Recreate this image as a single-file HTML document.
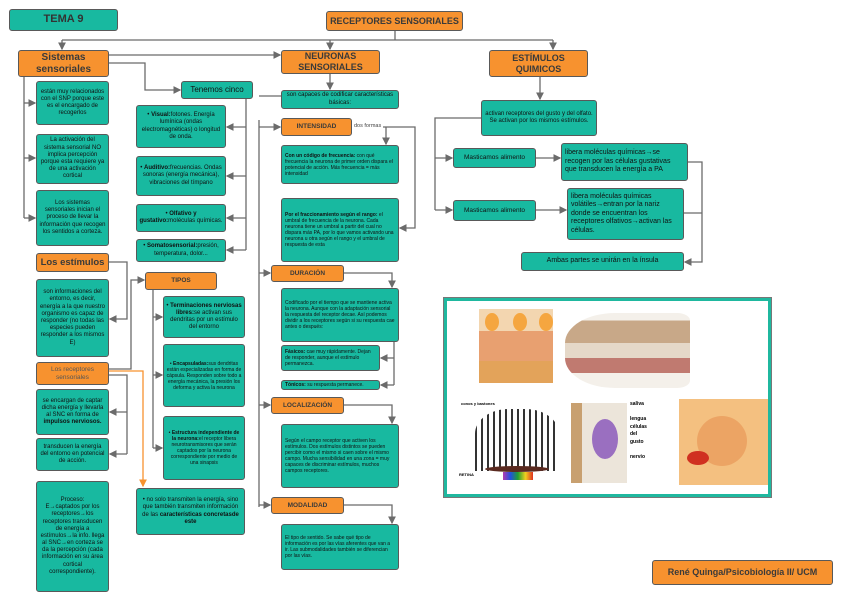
<!DOCTYPE html>
<html><head><meta charset="utf-8"><style>
body{margin:0;width:848px;height:599px;background:#fff;position:relative;overflow:hidden;font-family:"Liberation Sans",sans-serif;}
.b{position:absolute;box-sizing:border-box;border:1.5px solid #595959;border-radius:3px;display:flex;align-items:center;justify-content:center;text-align:center;color:#111;line-height:1.2;padding:1px 2px;}
.b>div{width:100%;}
.t{background:#18b9a0;font-size:6px;}
.o{background:#f7922f;font-weight:bold;color:#3a3a3a;}
.l{text-align:left;padding:2px 3px;}
svg{position:absolute;left:0;top:0;}
</style></head><body>
<svg width="848" height="599">
<defs><marker id="a" markerWidth="6" markerHeight="6" refX="5" refY="3" orient="auto"><path d="M0,0 L6,3 L0,6 z" fill="#6b6b6b"/></marker>
<marker id="ao" markerWidth="6" markerHeight="6" refX="5" refY="3" orient="auto"><path d="M0,0 L6,3 L0,6 z" fill="#f7922f"/></marker></defs>
<g fill="none" stroke="#6b6b6b" stroke-width="1.3">
<path d="M395,30 V40 M62,40 H553"/>
<path d="M62,40 V49" marker-end="url(#a)"/><path d="M330,40 V49" marker-end="url(#a)"/><path d="M553,40 V49" marker-end="url(#a)"/>
<path d="M109,55 H280" marker-end="url(#a)"/>
<path d="M109,63 H145 V90 H180" marker-end="url(#a)"/>
<path d="M24,77 V218"/><path d="M24,103 H35" marker-end="url(#a)"/><path d="M24,158 H35" marker-end="url(#a)"/><path d="M24,218 H35" marker-end="url(#a)"/>
<path d="M246,99 V250"/><path d="M246,127 H227" marker-end="url(#a)"/><path d="M246,176 H227" marker-end="url(#a)"/><path d="M246,218 H227" marker-end="url(#a)"/><path d="M246,250 H227" marker-end="url(#a)"/>
<path d="M109,262 H127 V319 H110" marker-end="url(#a)"/>
<path d="M109,369 H131 V280 H144" marker-end="url(#a)"/>
<path d="M109,375 H127 V454"/><path d="M127,412 H110" marker-end="url(#a)"/><path d="M127,454 H110" marker-end="url(#a)"/>
<path d="M153,290 V448"/><path d="M153,317 H162" marker-end="url(#a)"/><path d="M153,375 H162" marker-end="url(#a)"/><path d="M153,448 H162" marker-end="url(#a)"/>
<path d="M330,73 V89" marker-end="url(#a)"/>
<path d="M259,96 H281 M259,120 V507"/>
<path d="M259,127 H280" marker-end="url(#a)"/><path d="M259,273 H270" marker-end="url(#a)"/><path d="M259,405 H270" marker-end="url(#a)"/><path d="M259,505 H270" marker-end="url(#a)"/>
<path d="M383,127 H415 V228 H400" marker-end="url(#a)"/><path d="M386,127 V144" marker-end="url(#a)"/>
<path d="M344,273 H392 V287" marker-end="url(#a)"/>
<path d="M394,342 V385"/><path d="M394,358 H381" marker-end="url(#a)"/><path d="M394,385 H381" marker-end="url(#a)"/>
<path d="M344,405 H392 V423" marker-end="url(#a)"/>
<path d="M344,505 H392 V523" marker-end="url(#a)"/>
<path d="M540,77 V99" marker-end="url(#a)"/>
<path d="M481,118 H435 V210"/><path d="M435,158 H452" marker-end="url(#a)"/><path d="M435,210 H452" marker-end="url(#a)"/>
<path d="M536,158 H560" marker-end="url(#a)"/><path d="M536,210 H566" marker-end="url(#a)"/>
<path d="M688,162 H702 V262 H685" marker-end="url(#a)"/><path d="M684,213 H702"/>
</g>
<path d="M109,371 H143 V486" fill="none" stroke="#f7922f" stroke-width="1.3" marker-end="url(#ao)"/>
</svg>

<div class="b t" style="left:9px;top:9px;width:109px;height:22px;font-size:11px;font-weight:bold;color:#333"><div>TEMA 9</div></div>
<div class="b o" style="left:326px;top:11px;width:137px;height:20px;font-size:9px"><div>RECEPTORES SENSORIALES</div></div>
<div class="b o" style="left:18px;top:50px;width:91px;height:27px;font-size:10px"><div>Sistemas sensoriales</div></div>
<div class="b o" style="left:281px;top:50px;width:99px;height:24px;font-size:9px"><div>NEURONAS SENSORIALES</div></div>
<div class="b o" style="left:489px;top:50px;width:99px;height:27px;font-size:9px"><div>ESTÍMULOS QUIMICOS</div></div>
<div class="b t" style="left:181px;top:81px;width:72px;height:18px;font-size:8px"><div>Tenemos cinco</div></div>

<div class="b t" style="left:36px;top:81px;width:73px;height:44px"><div>están muy relacionados con el SNP porque este es el encargado de recogerlos</div></div>
<div class="b t" style="left:36px;top:134px;width:73px;height:50px"><div>La activación del sistema sensorial NO implica percepción porque esta requiere ya de una activación cortical</div></div>
<div class="b t" style="left:36px;top:190px;width:73px;height:56px"><div>Los sistemas sensoriales inician el proceso de llevar la información que recogen los sentidos a corteza.</div></div>
<div class="b o" style="left:36px;top:253px;width:73px;height:19px;font-size:9.5px;white-space:nowrap"><div>Los estímulos</div></div>
<div class="b t" style="left:36px;top:279px;width:73px;height:78px"><div>son informaciones del entorno, es decir, energía a la que nuestro organismo es capaz de responder (no todas las especies pueden responder a los mismos E)</div></div>
<div class="b o" style="left:36px;top:362px;width:73px;height:23px;font-size:6.5px;font-weight:normal;color:#555"><div>Los receptores sensoriales</div></div>
<div class="b t" style="left:36px;top:389px;width:73px;height:46px"><div>se encargan de captar dicha energía y llevarla al SNC en forma de <b>impulsos nerviosos.</b></div></div>
<div class="b t" style="left:36px;top:438px;width:73px;height:33px"><div>transducen la energía del entorno en potencial de acción.</div></div>
<div class="b t" style="left:36px;top:481px;width:73px;height:111px"><div>Proceso:<br>E→captados por los receptores→los receptores transducen de energía a estímulos→la info. llega al SNC→en corteza se da la percepción (cada información en su área cortical correspondiente).</div></div>

<div class="b t" style="left:136px;top:105px;width:90px;height:43px"><div>• <b>Visual:</b>fotones. Energía lumínica (ondas electromagnéticas) o longitud de onda.</div></div>
<div class="b t" style="left:136px;top:156px;width:90px;height:40px"><div>• <b>Auditivo:</b>frecuencias. Ondas sonoras (energía mecánica), vibraciones del tímpano</div></div>
<div class="b t" style="left:136px;top:204px;width:90px;height:28px"><div>• <b>Olfativo y gustativo:</b>moléculas químicas.</div></div>
<div class="b t" style="left:136px;top:239px;width:90px;height:23px"><div>• <b>Somatosensorial:</b>presión, temperatura, dolor...</div></div>

<div class="b o" style="left:145px;top:272px;width:72px;height:18px;font-size:6.5px"><div>TIPOS</div></div>
<div class="b t" style="left:163px;top:296px;width:82px;height:42px"><div>• <b>Terminaciones nerviosas libres:</b>se activan sus dendritas por un estímulo del entorno</div></div>
<div class="b t" style="left:163px;top:344px;width:82px;height:63px;font-size:5px"><div>• <b>Encapsuladas:</b>sus dendritas están especializadas en forma de cápsula. Responden sobre todo a energía mecánica, la presión los deforma y activa la neurona</div></div>
<div class="b t" style="left:163px;top:416px;width:82px;height:64px;font-size:5px"><div>• <b>Estructura independiente de la neurona:</b>el receptor libera neurotransmisores que serán captados por la neurona correspondiente por medio de una sinapsis</div></div>
<div class="b t" style="left:136px;top:488px;width:109px;height:47px"><div>• no solo transmiten la energía, sino que también transmiten información de las <b>características concretasde este</b></div></div>

<div class="b t" style="left:281px;top:90px;width:118px;height:19px"><div>son capaces de codificar características básicas:</div></div>
<div class="b o" style="left:281px;top:118px;width:71px;height:18px;font-size:6.5px"><div>INTENSIDAD</div></div>
<div style="position:absolute;left:354px;top:123px;font-size:5.5px;color:#444">dos formas</div>
<div class="b t l" style="left:281px;top:145px;width:118px;height:39px;font-size:5px"><div><b>Con un código de frecuencia:</b> con qué frecuencia la neurona de primer orden dispara el potencial de acción. Más frecuencia = más intensidad</div></div>
<div class="b t l" style="left:281px;top:198px;width:118px;height:64px;font-size:5px"><div><b>Por el fraccionamiento según el rango:</b> el umbral de frecuencia de la neurona. Cada neurona tiene un umbral a partir del cual no dispara más PA, por lo que vamos activando una neurona u otra según el rango y el umbral de respuesta de esta</div></div>
<div class="b o" style="left:271px;top:265px;width:73px;height:17px;font-size:6.5px"><div>DURACIÓN</div></div>
<div class="b t l" style="left:281px;top:288px;width:118px;height:54px;font-size:5px"><div>Codificado por el tiempo que se mantiene activa la neurona. Aunque con la adaptación sensorial la respuesta del receptor decae. Así podemos dividir a los receptores según si su respuesta cae antes o después:</div></div>
<div class="b t l" style="left:281px;top:345px;width:99px;height:26px;font-size:5px"><div><b>Fásicos:</b> cae muy rápidamente. Dejan de responder, aunque el estímulo permanezca.</div></div>
<div class="b t l" style="left:281px;top:380px;width:99px;height:10px;font-size:5px"><div><b>Tónicos:</b> su respuesta permanece.</div></div>
<div class="b o" style="left:271px;top:397px;width:73px;height:17px;font-size:6.5px"><div>LOCALIZACIÓN</div></div>
<div class="b t l" style="left:281px;top:424px;width:118px;height:64px;font-size:5px"><div>Según el campo receptor que activen los estímulos. Dos estímulos distintos se pueden percibir como el mismo si caen sobre el mismo campo. Mucha sensibilidad en una zona = muy capaces de discriminar estímulos, muchos campos receptores.</div></div>
<div class="b o" style="left:271px;top:497px;width:73px;height:17px;font-size:6.5px"><div>MODALIDAD</div></div>
<div class="b t l" style="left:281px;top:524px;width:118px;height:46px;font-size:5px"><div>El tipo de sentido. Se sabe qué tipo de información es por las vías aferentes que van a ir. Las submodalidades también se diferencian por las vías.</div></div>

<div class="b t" style="left:481px;top:100px;width:116px;height:36px"><div>activan receptores del gusto y del olfato. Se activan por los mismos estímulos.</div></div>
<div class="b t" style="left:453px;top:148px;width:83px;height:20px;font-size:6.5px"><div>Masticamos alimento</div></div>
<div class="b t" style="left:453px;top:200px;width:83px;height:21px;font-size:6.5px"><div>Masticamos alimento</div></div>
<div class="b t l" style="left:561px;top:143px;width:127px;height:38px;font-size:7px"><div>libera moléculas químicas→se recogen por las células gustativas que transducen la energía a PA</div></div>
<div class="b t l" style="left:567px;top:188px;width:117px;height:52px;font-size:7px"><div>libera moléculas químicas volátiles→entran por la nariz donde se encuentran los receptores olfativos→activan las células.</div></div>
<div class="b t" style="left:521px;top:252px;width:163px;height:19px;font-size:7px"><div>Ambas partes se unirán en la ínsula</div></div>

<div style="position:absolute;left:444px;top:298px;width:327px;height:199px;box-sizing:border-box;border:3px solid #1fb89f;outline:1px solid #777;background:#fff">
<div style="position:absolute;left:32px;top:8px;width:74px;height:74px;background:linear-gradient(#f3d6b0 0 30%,#e8a070 30% 70%,#e3a35a 70%);"></div>
<div style="position:absolute;left:38px;top:12px;width:14px;height:18px;background:#f5a640;border-radius:50%"></div>
<div style="position:absolute;left:66px;top:12px;width:14px;height:18px;background:#f5a640;border-radius:50%"></div>
<div style="position:absolute;left:92px;top:12px;width:14px;height:18px;background:#f5a640;border-radius:50%"></div>
<div style="position:absolute;left:118px;top:12px;width:125px;height:75px;background:linear-gradient(#f4f0ea 0 10%,#c8a888 10% 40%,#e5d8c8 40% 60%,#c07a70 60% 80%,#f4f0ea 80%);border-radius:40% 10% 10% 40%"></div>
<div style="position:absolute;left:14px;top:100px;font-size:4px;font-weight:bold">conos y bastones</div>
<div style="position:absolute;left:28px;top:108px;width:84px;height:62px;background:repeating-linear-gradient(90deg,#333 0 2px,#fff 2px 6px);border-radius:40% 40% 0 0"></div>
<div style="position:absolute;left:38px;top:165px;width:64px;height:6px;background:#5a2a20;border-radius:50%"></div>
<div style="position:absolute;left:56px;top:171px;width:30px;height:8px;background:linear-gradient(90deg,#b43ab0,#2050e0,#20a030,#f0d020,#e03020)"></div>
<div style="position:absolute;left:12px;top:171px;font-size:4px;font-weight:bold">RETINA</div>
<div style="position:absolute;left:124px;top:102px;width:56px;height:80px;background:linear-gradient(90deg,#c8a070 0 20%,#ece5da 20%)"></div>
<div style="position:absolute;left:145px;top:118px;width:26px;height:40px;background:#9a6fc0;border-radius:50%"></div>
<div style="position:absolute;left:183px;top:100px;font-size:5px;font-weight:bold;line-height:1.5">saliva<br><br>lengua<br>células<br>del<br>gusto<br><br>nervio</div>
<div style="position:absolute;left:232px;top:98px;width:89px;height:86px;background:#f4c080"></div>
<div style="position:absolute;left:250px;top:115px;width:50px;height:50px;border-radius:50%;background:#e89858;opacity:.7"></div>
<div style="position:absolute;left:240px;top:150px;width:22px;height:14px;border-radius:50%;background:#d03020"></div>
</div>

<div class="b o" style="left:652px;top:560px;width:181px;height:25px;font-size:9px"><div>René Quinga/Psicobiología II/ UCM</div></div>
</body></html>
